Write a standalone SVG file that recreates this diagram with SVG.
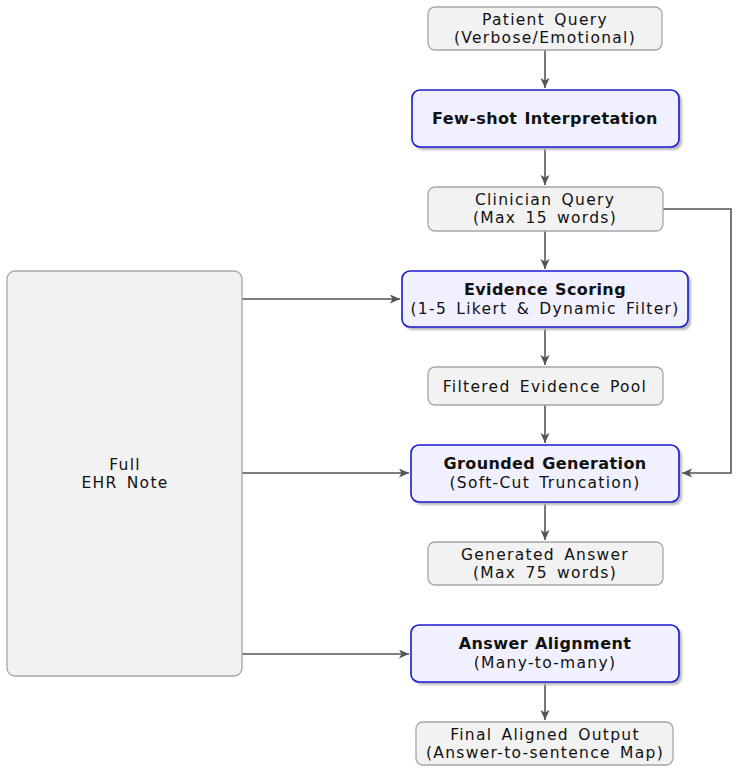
<svg xmlns="http://www.w3.org/2000/svg" width="737" height="773" viewBox="0 0 737 773">
<style>
.gray{fill:#f2f2f2;stroke:#a6a6a6;stroke-width:1.3}
.blue{fill:#f0f0fe;stroke:#1a1ad0;stroke-width:1.6}
.shadow{fill:#b8b8b8;filter:url(#blur)}
text{font-family:"DejaVu Sans","Liberation Sans",sans-serif;fill:#111;text-anchor:middle}
.r{font-size:15.5px;letter-spacing:1.3px;word-spacing:3px}
.b{font-size:16px;font-weight:bold;letter-spacing:0.4px;word-spacing:1px}
.c{fill:none;stroke:#555;stroke-width:1.6}
</style>
<defs>
<filter id="blur" x="-10%" y="-10%" width="120%" height="130%"><feGaussianBlur stdDeviation="1.2"/></filter>
<marker id="arr" markerUnits="userSpaceOnUse" markerWidth="12" markerHeight="10" refX="10" refY="4.5" orient="auto">
<path d="M0,0 L10,4.5 L0,9 L2.5,4.5 z" fill="#555"/>
</marker>
</defs>
<g id="connectors">
<path class="c" d="M545,50 V88" marker-end="url(#arr)"/>
<path class="c" d="M545,147 V185" marker-end="url(#arr)"/>
<path class="c" d="M545,231 V269" marker-end="url(#arr)"/>
<path class="c" d="M545,327 V365" marker-end="url(#arr)"/>
<path class="c" d="M545,405 V443" marker-end="url(#arr)"/>
<path class="c" d="M545,502 V540" marker-end="url(#arr)"/>
<path class="c" d="M545,682 V720" marker-end="url(#arr)"/>
<path class="c" d="M663,209 H731 V473 H682" marker-end="url(#arr)"/>
<path class="c" d="M242,299 H400" marker-end="url(#arr)"/>
<path class="c" d="M242,473 H409" marker-end="url(#arr)"/>
<path class="c" d="M242,654 H409" marker-end="url(#arr)"/>
</g>
<g id="patient">
<rect class="gray" x="428" y="7" width="234" height="43" rx="7"/>
<text class="r" x="545" y="24.5">Patient Query</text>
<text class="r" x="545" y="43">(Verbose/Emotional)</text>
</g>
<g id="fewshot">
<rect class="shadow" x="415" y="93" width="267" height="57" rx="8"/>
<rect class="blue" x="412" y="90" width="267" height="57" rx="8"/>
<text class="b" x="545" y="124">Few-shot Interpretation</text>
</g>
<g id="clinician">
<rect class="gray" x="428" y="187" width="235" height="44" rx="7"/>
<text class="r" x="545" y="204.5">Clinician Query</text>
<text class="r" x="545" y="223">(Max 15 words)</text>
</g>
<g id="evidence">
<rect class="shadow" x="405" y="274" width="286" height="56" rx="8"/>
<rect class="blue" x="402" y="271" width="286" height="56" rx="8"/>
<text class="b" x="545" y="294.5">Evidence Scoring</text>
<text class="r" x="545" y="313.5">(1-5 Likert &amp; Dynamic Filter)</text>
</g>
<g id="filtered">
<rect class="gray" x="428" y="367" width="235" height="38" rx="7"/>
<text class="r" x="545" y="392">Filtered Evidence Pool</text>
</g>
<g id="grounded">
<rect class="shadow" x="414" y="448" width="268" height="57" rx="8"/>
<rect class="blue" x="411" y="445" width="268" height="57" rx="8"/>
<text class="b" x="545" y="468.5">Grounded Generation</text>
<text class="r" x="545" y="487.5">(Soft-Cut Truncation)</text>
</g>
<g id="generated">
<rect class="gray" x="428" y="542" width="235" height="43" rx="7"/>
<text class="r" x="545" y="559.5">Generated Answer</text>
<text class="r" x="545" y="578">(Max 75 words)</text>
</g>
<g id="alignment">
<rect class="shadow" x="414" y="628" width="268" height="57" rx="8"/>
<rect class="blue" x="411" y="625" width="268" height="57" rx="8"/>
<text class="b" x="545" y="648.5">Answer Alignment</text>
<text class="r" x="545" y="667.5">(Many-to-many)</text>
</g>
<g id="final">
<rect class="gray" x="416" y="722" width="257" height="43" rx="7"/>
<text class="r" x="545" y="739.5">Final Aligned Output</text>
<text class="r" x="545" y="758">(Answer-to-sentence Map)</text>
</g>
<g id="ehr">
<rect class="gray" x="7" y="271" width="235" height="405" rx="8"/>
<text class="r" x="125" y="469.5">Full</text>
<text class="r" x="125" y="488">EHR Note</text>
</g>
</svg>
